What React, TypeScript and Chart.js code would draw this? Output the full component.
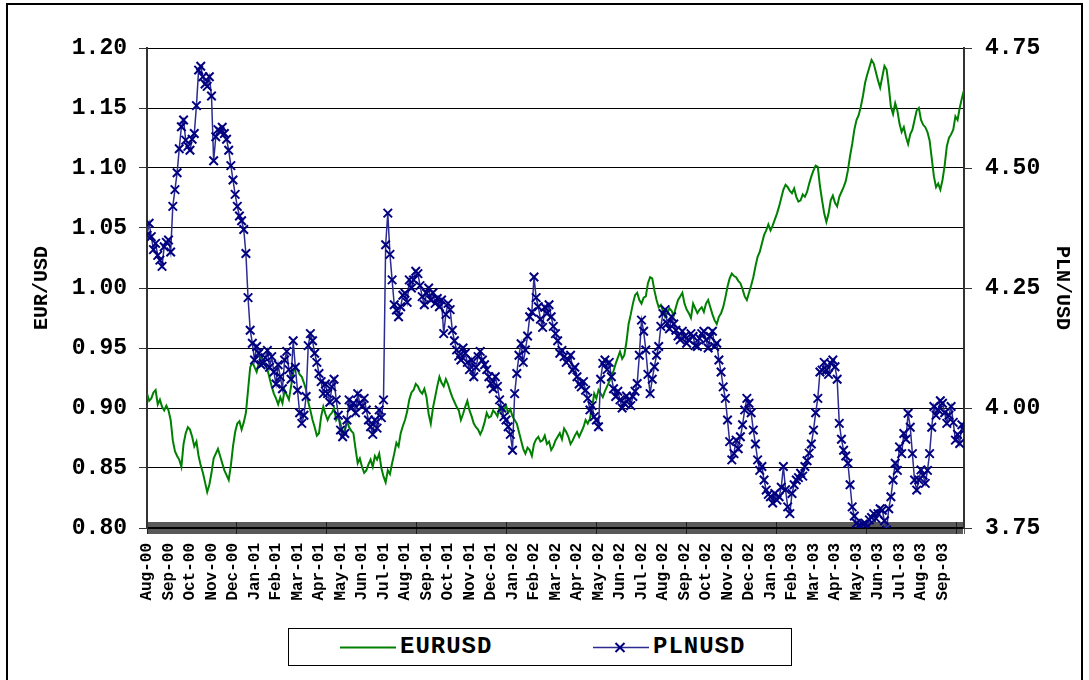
import { useEffect, useRef } from 'react';
import { Chart, registerables } from 'chart.js';

Chart.register(...registerables);

const FONT = '"Liberation Mono", "Courier New", monospace';

const monthLabels = [
  'Aug-00', 'Sep-00', 'Oct-00', 'Nov-00', 'Dec-00',
  'Jan-01', 'Feb-01', 'Mar-01', 'Apr-01', 'May-01', 'Jun-01', 'Jul-01', 'Aug-01', 'Sep-01', 'Oct-01', 'Nov-01', 'Dec-01',
  'Jan-02', 'Feb-02', 'Mar-02', 'Apr-02', 'May-02', 'Jun-02', 'Jul-02', 'Aug-02', 'Sep-02', 'Oct-02', 'Nov-02', 'Dec-02',
  'Jan-03', 'Feb-03', 'Mar-03', 'Apr-03', 'May-03', 'Jun-03', 'Jul-03', 'Aug-03', 'Sep-03',
];

// readings per month along the time axis (roughly every 2 trading days)
const POINTS_PER_MONTH = 10;
const MONTH_SPAN = 38;

const eurusd = [
  0.912, 0.906, 0.908, 0.913, 0.915, 0.903, 0.907, 0.901, 0.898, 0.902,
  0.898, 0.890, 0.873, 0.864, 0.860, 0.857, 0.851, 0.870, 0.879, 0.884,
  0.882, 0.876, 0.868, 0.872, 0.860, 0.852, 0.846, 0.838, 0.830, 0.836,
  0.846, 0.858, 0.862, 0.866, 0.860, 0.854, 0.848, 0.844, 0.840, 0.852,
  0.868, 0.880, 0.887, 0.889, 0.882, 0.888, 0.896, 0.915, 0.934, 0.938,
  0.934, 0.930, 0.937, 0.942, 0.940, 0.936, 0.932, 0.925, 0.918, 0.912,
  0.908, 0.903, 0.909, 0.904, 0.915, 0.911, 0.907, 0.918, 0.929, 0.935,
  0.932, 0.928, 0.926, 0.921, 0.915, 0.905, 0.898, 0.890, 0.884, 0.877,
  0.879, 0.893, 0.901, 0.895, 0.890, 0.894, 0.896, 0.900, 0.890, 0.893,
  0.887, 0.879, 0.882, 0.889, 0.884, 0.881, 0.879, 0.866, 0.854, 0.858,
  0.851, 0.846, 0.848, 0.853, 0.857, 0.851, 0.860, 0.857, 0.862, 0.850,
  0.843, 0.838, 0.848, 0.845, 0.854, 0.862, 0.871, 0.868, 0.879, 0.885,
  0.890, 0.897, 0.907, 0.913, 0.915, 0.920, 0.918, 0.914, 0.912, 0.916,
  0.909, 0.895, 0.887, 0.900, 0.909, 0.918, 0.926, 0.921, 0.918, 0.924,
  0.920, 0.914, 0.909, 0.905, 0.901, 0.898, 0.890, 0.895, 0.901, 0.906,
  0.898, 0.893, 0.887, 0.884, 0.882, 0.878, 0.882, 0.888, 0.896, 0.892,
  0.893, 0.898, 0.896, 0.893, 0.901, 0.896, 0.898, 0.902, 0.896, 0.899,
  0.893, 0.890, 0.887, 0.880, 0.873, 0.866, 0.862, 0.867, 0.865, 0.860,
  0.870, 0.874, 0.876, 0.872, 0.873, 0.877, 0.870, 0.872, 0.865, 0.868,
  0.873, 0.876, 0.879, 0.874, 0.883, 0.880, 0.876, 0.870, 0.873, 0.877,
  0.880, 0.876, 0.880, 0.884, 0.890, 0.887, 0.891, 0.900, 0.912, 0.908,
  0.915, 0.912, 0.909, 0.914, 0.918, 0.922, 0.926, 0.931, 0.937, 0.942,
  0.947, 0.941, 0.944, 0.955, 0.970, 0.978, 0.987, 0.994, 0.996, 0.990,
  0.987, 0.992, 0.993, 1.004, 1.009, 1.008, 0.998, 0.990, 0.984, 0.986,
  0.981, 0.976, 0.979, 0.983, 0.981, 0.977, 0.984, 0.990, 0.993, 0.996,
  0.987, 0.982, 0.979, 0.975, 0.987, 0.983, 0.979, 0.982, 0.984, 0.980,
  0.987, 0.990, 0.984, 0.978, 0.973, 0.970, 0.976, 0.979, 0.984, 0.992,
  1.001, 1.008, 1.012, 1.010, 1.009, 1.006, 1.004, 0.999, 0.993, 0.990,
  0.996, 1.002, 1.009, 1.018, 1.026, 1.030, 1.037, 1.044, 1.048, 1.053,
  1.048, 1.052, 1.057, 1.062, 1.068, 1.075, 1.082, 1.086, 1.084, 1.081,
  1.079, 1.083, 1.076, 1.072, 1.073, 1.078, 1.076, 1.080, 1.087, 1.093,
  1.098, 1.102, 1.101, 1.085, 1.073, 1.062, 1.055, 1.062, 1.073, 1.077,
  1.071, 1.068, 1.076, 1.080, 1.084, 1.089, 1.098, 1.110, 1.120, 1.132,
  1.140, 1.144, 1.151, 1.160, 1.171, 1.178, 1.184, 1.190, 1.187, 1.180,
  1.173, 1.167, 1.176, 1.185, 1.182, 1.168, 1.151, 1.145, 1.154, 1.148,
  1.137, 1.130, 1.134, 1.126, 1.120, 1.128, 1.132, 1.140, 1.148, 1.150,
  1.140, 1.136, 1.134, 1.130, 1.123, 1.108, 1.093, 1.084, 1.087, 1.082,
  1.090, 1.102, 1.118, 1.125, 1.128, 1.132, 1.143, 1.140, 1.150, 1.158,
  1.165,
];

const plnusd = [
  4.360, 4.385, 4.357, 4.330, 4.343, 4.318, 4.308, 4.295, 4.336, 4.345,
  4.350, 4.325, 4.420, 4.455, 4.490, 4.540, 4.586, 4.600, 4.558, 4.545,
  4.537, 4.560, 4.572, 4.630, 4.704, 4.712, 4.690, 4.675, 4.670, 4.690,
  4.650, 4.515, 4.565, 4.580, 4.576, 4.585, 4.572, 4.560, 4.537, 4.505,
  4.475, 4.445, 4.420, 4.400, 4.390, 4.372, 4.322, 4.230, 4.162, 4.135,
  4.100, 4.128, 4.114, 4.090, 4.093, 4.105, 4.120, 4.085, 4.107, 4.075,
  4.050, 4.090, 4.065, 4.040, 4.100, 4.118, 4.080, 4.060, 4.140, 4.085,
  4.037, 3.990, 3.968, 3.985, 4.024, 4.130, 4.155, 4.140, 4.114, 4.095,
  4.072, 4.055, 4.030, 4.050, 4.030, 4.012, 4.044, 4.060, 4.017, 3.985,
  3.954, 3.940, 3.947, 3.975, 4.017, 4.000, 4.010, 3.990, 4.030, 4.010,
  4.003, 4.020, 3.996, 3.975, 3.961, 3.945, 3.975, 3.958, 3.996, 3.980,
  4.017, 4.340, 4.406, 4.320, 4.267, 4.215, 4.204, 4.190, 4.211, 4.235,
  4.239, 4.220, 4.267, 4.250, 4.267, 4.285, 4.280, 4.255, 4.232, 4.215,
  4.239, 4.250, 4.225, 4.240, 4.218, 4.228, 4.211, 4.225, 4.155, 4.195,
  4.218, 4.205, 4.162, 4.140, 4.121, 4.108, 4.100, 4.125, 4.114, 4.095,
  4.080, 4.100, 4.065, 4.085, 4.107, 4.118, 4.100, 4.090, 4.080, 4.065,
  4.051, 4.040, 4.065, 4.045, 4.017, 4.000, 3.982, 3.975, 3.961, 3.945,
  3.912, 4.030, 4.072, 4.110, 4.134, 4.095, 4.121, 4.150, 4.190, 4.200,
  4.273, 4.230, 4.211, 4.185, 4.168, 4.210, 4.197, 4.215, 4.190, 4.170,
  4.155, 4.140, 4.114, 4.120, 4.107, 4.095, 4.100, 4.110, 4.079, 4.085,
  4.065, 4.050, 4.044, 4.055, 4.037, 4.020, 3.996, 4.005, 3.982, 3.975,
  3.961, 4.060, 4.093, 4.100, 4.080, 4.095, 4.065, 4.040, 4.024, 4.035,
  4.017, 4.000, 4.010, 4.025, 4.017, 4.005, 4.024, 4.035, 4.051, 4.110,
  4.183, 4.160, 4.121, 4.070, 4.030, 4.060, 4.086, 4.110, 4.128, 4.170,
  4.197, 4.205, 4.176, 4.165, 4.190, 4.175, 4.162, 4.150, 4.142, 4.160,
  4.149, 4.135, 4.142, 4.155, 4.149, 4.130, 4.128, 4.145, 4.155, 4.160,
  4.142, 4.125, 4.149, 4.160, 4.128, 4.135, 4.100, 4.075, 4.044, 4.020,
  3.975, 3.930, 3.892, 3.905, 3.933, 3.915, 3.940, 3.965, 3.996, 4.020,
  4.010, 3.990, 3.954, 3.925, 3.892, 3.870, 3.878, 3.850, 3.829, 3.820,
  3.815, 3.802, 3.822, 3.808, 3.815, 3.835, 3.878, 3.830, 3.794, 3.780,
  3.822, 3.840, 3.850, 3.855, 3.864, 3.858, 3.878, 3.890, 3.906, 3.925,
  3.954, 3.990, 4.020, 4.075, 4.079, 4.095, 4.079, 4.070, 4.093, 4.100,
  4.086, 4.060, 3.968, 3.935, 3.912, 3.900, 3.885, 3.840, 3.794, 3.775,
  3.760, 3.755, 3.753, 3.758, 3.760, 3.752, 3.767, 3.772, 3.780, 3.770,
  3.780, 3.790, 3.787, 3.765, 3.746, 3.790, 3.815, 3.850, 3.885, 3.870,
  3.919, 3.905, 3.947, 3.935, 3.989, 3.960, 3.905, 3.850, 3.829, 3.850,
  3.871, 3.860, 3.843, 3.870, 3.905, 3.960, 4.003, 3.985, 3.996, 4.015,
  4.010, 3.990, 3.968, 3.985, 4.003, 3.970, 3.933, 3.945, 3.926, 3.965,
  3.954,
];

const EUR_MIN = 0.8;
const EUR_MAX = 1.2;
const EUR_STEP = 0.05;
const PLN_MIN = 3.75;
const PLN_MAX = 4.75;
const PLN_STEP = 0.25;

const toPoints = (arr: number[]) => arr.map((v, i) => ({ x: i / POINTS_PER_MONTH, y: v }));

export default function App() {
  const ref = useRef<HTMLCanvasElement | null>(null);

  useEffect(() => {
    const canvas = ref.current;
    if (!canvas) return;
    const chart = new Chart(canvas, {
      type: 'line',
      data: {
        datasets: [
          {
            label: 'EURUSD',
            data: toPoints(eurusd),
            borderColor: '#008000',
            backgroundColor: '#008000',
            borderWidth: 2,
            pointRadius: 0,
            tension: 0,
            xAxisID: 'x',
            yAxisID: 'y',
            order: 1,
          },
          {
            label: 'PLNUSD',
            data: toPoints(plnusd),
            borderColor: '#2b2b92',
            backgroundColor: '#000080',
            borderWidth: 1.5,
            pointStyle: 'crossRot',
            pointRadius: 6,
            pointBorderWidth: 2,
            pointBorderColor: '#000080',
            pointBackgroundColor: '#000080',
            tension: 0,
            xAxisID: 'x',
            yAxisID: 'y1',
            order: 0,
          },
        ],
      },
      options: {
        responsive: false,
        animation: false,
        events: [],
        layout: { padding: { top: 48, left: 0, right: 0, bottom: 52 } },
        plugins: {
          legend: { display: false },
          tooltip: { enabled: false },
        },
        scales: {
          x: {
            type: 'linear',
            position: 'bottom',
            min: 0,
            max: MONTH_SPAN,
            weight: 1,
            ticks: {
              stepSize: 1,
              autoSkip: false,
              minRotation: 90,
              maxRotation: 90,
              padding: 15,
              color: '#000',
              font: { family: FONT, weight: 'bold', size: 16 },
              callback: (v: any) => monthLabels[Math.round(Number(v))] ?? '',
            },
            grid: { display: false, drawTicks: false, tickLength: 0 },
            border: { display: true, color: '#000', width: 1.5 },
            afterFit: (s: any) => {
              s.height = 100;
            },
          },
          xMinor: {
            type: 'linear',
            axis: 'x',
            position: { y: 0.805 },
            min: 0,
            max: MONTH_SPAN,
            ticks: { display: false, stepSize: 0.046, autoSkip: false },
            grid: {
              display: true,
              drawOnChartArea: false,
              drawTicks: true,
              tickLength: 12,
              tickColor: 'rgba(0,0,0,0.65)',
              tickWidth: 1,
            },
            border: { display: false },
          },
          y: {
            type: 'linear',
            position: 'left',
            min: EUR_MIN,
            max: EUR_MAX,
            ticks: {
              stepSize: EUR_STEP,
              padding: 12,
              color: '#000',
              font: { family: FONT, weight: 'bold', size: 23 },
              callback: (v: any) => Number(v).toFixed(2),
            },
            grid: { color: '#000', lineWidth: 1, drawTicks: true, tickLength: 8, tickColor: '#333' },
            border: { color: '#333', width: 2 },
            title: {
              display: true,
              text: 'EUR/USD',
              color: '#000',
              font: { family: FONT, weight: 'bold', size: 20 },
              padding: { top: 30, bottom: 0 },
            },
            afterFit: (s: any) => {
              s.width = 147;
            },
          },
          y1: {
            type: 'linear',
            position: 'right',
            min: PLN_MIN,
            max: PLN_MAX,
            ticks: {
              stepSize: PLN_STEP,
              padding: 13,
              color: '#000',
              font: { family: FONT, weight: 'bold', size: 23 },
              callback: (v: any) => Number(v).toFixed(2),
            },
            grid: { drawOnChartArea: false, drawTicks: true, tickLength: 8, tickColor: '#333' },
            border: { color: '#333', width: 2 },
            title: {
              display: true,
              text: 'PLN/USD',
              color: '#000',
              font: { family: FONT, weight: 'bold', size: 20 },
              padding: { top: 15, bottom: 0 },
            },
            afterFit: (s: any) => {
              s.width = 125;
            },
          },
        },
      } as any,
    });
    return () => chart.destroy();
  }, []);

  const legendText: React.CSSProperties = {
    position: 'absolute',
    top: 0,
    height: 36,
    lineHeight: '36px',
    fontFamily: FONT,
    fontWeight: 'bold',
    fontSize: 24,
    letterSpacing: 1,
    color: '#000',
    whiteSpace: 'nowrap',
  };

  return (
    <div
      style={{
        position: 'fixed',
        left: 0,
        top: 0,
        width: 1089,
        height: 680,
        background: '#fff',
        overflow: 'hidden',
      }}
    >
      <div
        style={{
          position: 'absolute',
          left: 6,
          top: 3,
          width: 1077,
          height: 720,
          border: '2px solid #000',
          boxSizing: 'border-box',
        }}
      />
      <canvas
        ref={ref}
        width={1089}
        height={680}
        style={{ position: 'absolute', left: 0, top: 0, width: 1089, height: 680, display: 'block' }}
      />
      <div
        style={{
          position: 'absolute',
          left: 288,
          top: 628,
          width: 504,
          height: 38,
          border: '1px solid #000',
          boxSizing: 'border-box',
          background: '#fff',
        }}
      >
        <svg width={56} height={36} style={{ position: 'absolute', left: 51, top: 0 }}>
          <line x1={0} y1={18.5} x2={56} y2={18.5} stroke="#008000" strokeWidth={2} />
        </svg>
        <span style={{ ...legendText, left: 111 }}>EURUSD</span>
        <svg width={56} height={36} style={{ position: 'absolute', left: 304, top: 0 }}>
          <line x1={0} y1={18.5} x2={56} y2={18.5} stroke="#2b2b92" strokeWidth={1.5} />
          <line x1={22.5} y1={14} x2={31.5} y2={23} stroke="#000080" strokeWidth={2} />
          <line x1={22.5} y1={23} x2={31.5} y2={14} stroke="#000080" strokeWidth={2} />
        </svg>
        <span style={{ ...legendText, left: 364 }}>PLNUSD</span>
      </div>
    </div>
  );
}
